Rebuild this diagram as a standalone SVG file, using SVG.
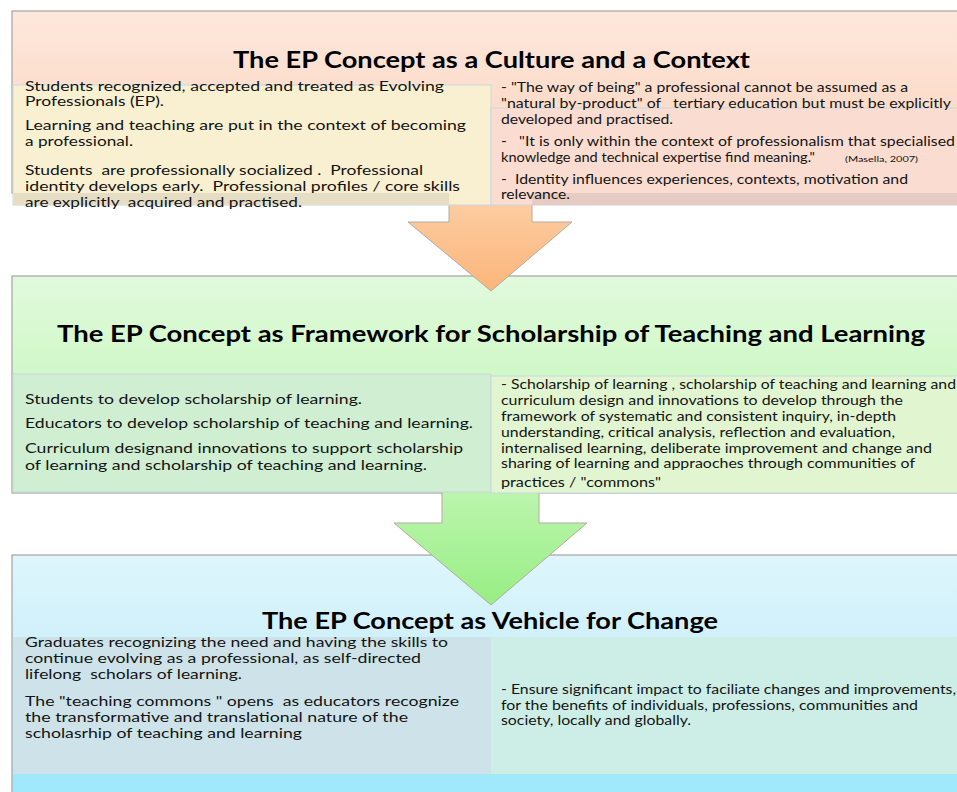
<svg xmlns="http://www.w3.org/2000/svg" width="957" height="792" viewBox="0 0 957 792">
<style>
.b{font-family:Lato,"Liberation Sans",sans-serif;font-size:14px;fill:#141414;white-space:pre}
.s{font-family:Lato,"Liberation Sans",sans-serif;font-size:8px;fill:#141414}
.t{font-family:Lato,"Liberation Sans",sans-serif;font-size:23px;font-weight:bold;fill:#000}
.outer{stroke:#a3a3a3;stroke-width:1.2}
.inner{stroke:#c9d8de;stroke-width:1}
.arrow{stroke:#b4aaa2;stroke-width:1}
</style>
<defs>
<linearGradient id="gTop" x1="0" y1="0" x2="0" y2="1"><stop offset="0" stop-color="#fde8dc"/><stop offset="1" stop-color="#fbd1ba"/></linearGradient>
<linearGradient id="gMid" x1="0" y1="0" x2="0" y2="1"><stop offset="0" stop-color="#e1fadd"/><stop offset="0.5" stop-color="#cff8c6"/><stop offset="1" stop-color="#cdf6c4"/></linearGradient>
<linearGradient id="gBot" x1="0" y1="0" x2="0" y2="1"><stop offset="0" stop-color="#def6fc"/><stop offset="0.4" stop-color="#cdeffa"/><stop offset="1" stop-color="#b8e9f8"/></linearGradient>
<linearGradient id="gA1" x1="0" y1="0" x2="0" y2="1"><stop offset="0" stop-color="#fdcfa6"/><stop offset="1" stop-color="#fbb57a"/></linearGradient>
<linearGradient id="gA2" x1="0" y1="0" x2="0" y2="1"><stop offset="0" stop-color="#bff6b2"/><stop offset="1" stop-color="#98ee84"/></linearGradient>
</defs>

<g id="section-culture-frame"><rect class="outer" x="12" y="11" width="960" height="182" fill="url(#gTop)"/></g>
<g id="section-framework-frame"><rect class="outer" x="12" y="276" width="960" height="217" fill="url(#gMid)"/></g>
<g id="section-change-frame"><rect class="outer" x="12" y="555" width="960" height="250" fill="url(#gBot)"/></g>

<g id="connectors">
<polygon class="arrow" fill="url(#gA1)" points="449,195 532,195 532,222 572,222 491,291 408,222 449,222"/>
<polygon class="arrow" fill="url(#gA2)" points="442,480 539,480 539,523 587,523 491,605 394,523 442,523"/>
</g>

<g id="culture-left">
<rect class="inner" x="13" y="85" width="478" height="120" fill="#f8f0d1"/>
<rect x="14" y="193" width="435" height="12" fill="#e5dec4"/>
<text class="b" x="25" y="91" textLength="419" lengthAdjust="spacingAndGlyphs">Students recognized, accepted and treated as Evolving</text>
<text class="b" x="25" y="106" textLength="139" lengthAdjust="spacingAndGlyphs">Professionals (EP).</text>
<text class="b" x="25" y="130" textLength="441" lengthAdjust="spacingAndGlyphs">Learning and teaching are put in the context of becoming</text>
<text class="b" x="25" y="146" textLength="108" lengthAdjust="spacingAndGlyphs">a professional.</text>
<text class="b" x="25" y="175" textLength="398" lengthAdjust="spacingAndGlyphs">Students  are professionally socialized .  Professional</text>
<text class="b" x="25" y="191" textLength="435" lengthAdjust="spacingAndGlyphs">identity develops early.  Professional profiles / core skills</text>
<text class="b" x="25" y="207" textLength="277" lengthAdjust="spacingAndGlyphs">are explicitly  acquired and practised.</text>
</g>

<g id="culture-right">
<rect class="inner" x="491" y="108" width="480" height="97" fill="#fadcd0"/>
<rect x="532" y="193" width="430" height="12" fill="#e5cbc1"/>
<text class="b" x="501" y="92" textLength="407" lengthAdjust="spacingAndGlyphs">- "The way of being" a professional cannot be assumed as a</text>
<text class="b" x="501" y="108" textLength="450" lengthAdjust="spacingAndGlyphs">"natural by-product" of   tertiary education but must be explicitly</text>
<text class="b" x="501" y="124" textLength="172" lengthAdjust="spacingAndGlyphs">developed and practised.</text>
<text class="b" x="501" y="146" textLength="454" lengthAdjust="spacingAndGlyphs">-   "It is only within the context of professionalism that specialised</text>
<text class="b" x="501" y="162" textLength="314" lengthAdjust="spacingAndGlyphs">knowledge and technical expertise find meaning."</text>
<text class="s" x="845" y="162" textLength="73" lengthAdjust="spacingAndGlyphs">(Masella, 2007)</text>
<text class="b" x="501" y="184" textLength="407" lengthAdjust="spacingAndGlyphs">-  Identity influences experiences, contexts, motivation and</text>
<text class="b" x="501" y="199" textLength="69" lengthAdjust="spacingAndGlyphs">relevance.</text>
</g>

<g id="title-culture"><text class="t" x="233" y="68" textLength="517" lengthAdjust="spacingAndGlyphs">The EP Concept as a Culture and a Context</text></g>

<g id="title-framework"><text class="t" x="57" y="342" textLength="868" lengthAdjust="spacingAndGlyphs">The EP Concept as Framework for Scholarship of Teaching and Learning</text></g>

<g id="framework-left">
<rect class="inner" x="13" y="374" width="478" height="118" fill="#cfeed2"/>
<text class="b" x="25" y="404" textLength="337" lengthAdjust="spacingAndGlyphs">Students to develop scholarship of learning.</text>
<text class="b" x="25" y="428" textLength="448" lengthAdjust="spacingAndGlyphs">Educators to develop scholarship of teaching and learning.</text>
<text class="b" x="25" y="453" textLength="438" lengthAdjust="spacingAndGlyphs">Curriculum designand innovations to support scholarship</text>
<text class="b" x="25" y="470" textLength="402" lengthAdjust="spacingAndGlyphs">of learning and scholarship of teaching and learning.</text>
</g>

<g id="framework-right">
<rect class="inner" x="491" y="376" width="480" height="117" fill="#e1f5d1"/>
<text class="b" x="501" y="389" textLength="455" lengthAdjust="spacingAndGlyphs">- Scholarship of learning , scholarship of teaching and learning and</text>
<text class="b" x="501" y="405" textLength="402" lengthAdjust="spacingAndGlyphs">curriculum design and innovations to develop through the</text>
<text class="b" x="501" y="421" textLength="395" lengthAdjust="spacingAndGlyphs">framework of systematic and consistent inquiry, in-depth</text>
<text class="b" x="501" y="437" textLength="394" lengthAdjust="spacingAndGlyphs">understanding, critical analysis, reflection and evaluation,</text>
<text class="b" x="501" y="453" textLength="431" lengthAdjust="spacingAndGlyphs">internalised learning, deliberate improvement and change and</text>
<text class="b" x="501" y="468" textLength="414" lengthAdjust="spacingAndGlyphs">sharing of learning and appraoches through communities of</text>
<text class="b" x="501" y="487" textLength="160" lengthAdjust="spacingAndGlyphs">practices / "commons"</text>
</g>

<g id="title-change"><text class="t" x="262" y="629" textLength="456" lengthAdjust="spacingAndGlyphs">The EP Concept as Vehicle for Change</text></g>

<g id="change-left">
<rect x="13" y="637" width="478" height="137" fill="#cde3e9"/>
<text class="b" x="25" y="647" textLength="423" lengthAdjust="spacingAndGlyphs">Graduates recognizing the need and having the skills to</text>
<text class="b" x="25" y="663" textLength="396" lengthAdjust="spacingAndGlyphs">continue evolving as a professional, as self-directed</text>
<text class="b" x="25" y="679" textLength="217" lengthAdjust="spacingAndGlyphs">lifelong  scholars of learning.</text>
<text class="b" x="25" y="706" textLength="434" lengthAdjust="spacingAndGlyphs">The "teaching commons " opens  as educators recognize</text>
<text class="b" x="25" y="722" textLength="383" lengthAdjust="spacingAndGlyphs">the transformative and translational nature of the</text>
<text class="b" x="25" y="738" textLength="277" lengthAdjust="spacingAndGlyphs">scholasrhip of teaching and learning</text>
</g>

<g id="change-right">
<rect x="491" y="637" width="480" height="137" fill="#cdeee6"/>
<text class="b" x="501" y="694" textLength="455" lengthAdjust="spacingAndGlyphs">- Ensure significant impact to faciliate changes and improvements,</text>
<text class="b" x="501" y="710" textLength="417" lengthAdjust="spacingAndGlyphs">for the benefits of individuals, professions, communities and</text>
<text class="b" x="501" y="725" textLength="190" lengthAdjust="spacingAndGlyphs">society, locally and globally.</text>
</g>

<g id="change-band"><rect x="13" y="774" width="960" height="20" fill="#a0e8fc"/></g>
</svg>
